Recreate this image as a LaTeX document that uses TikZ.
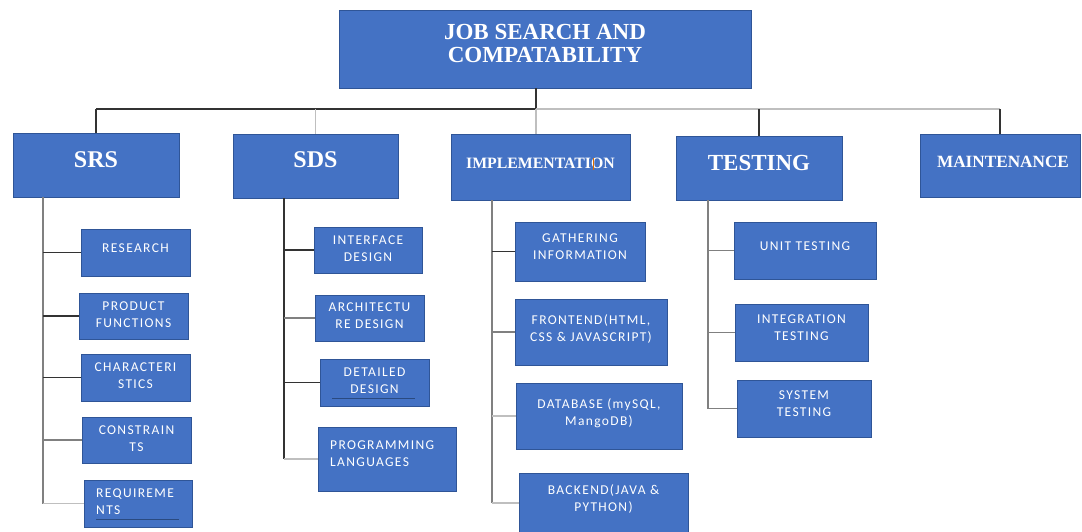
\documentclass[tikz,border=0pt]{standalone}
\usepackage{fontspec}
\setmainfont{Liberation Serif}
\newfontfamily\calfont[LetterSpace=10]{Carlito}
\usetikzlibrary{calc}
\definecolor{boxfill}{HTML}{4472C4}
\definecolor{boxline}{HTML}{2F5597}
\definecolor{ulcol}{HTML}{2A4A80}
\tikzset{
  box/.style={draw=boxline, fill=boxfill, line width=1pt, inner sep=0pt, outer sep=0pt, anchor=north west},
  toptext/.style={text=white, inner sep=0pt, align=center, font=\bfseries},
  subtext/.style={text=white, inner sep=0pt, align=center, anchor=north, font=\calfont\fontsize{13.5}{17}\selectfont},
  subleft/.style={subtext, align=left, anchor=north west},
  dk/.style={draw=black!80, line width=1.2pt},
  md/.style={draw=black!50, line width=1.2pt},
  lt/.style={draw=black!25, line width=1.2pt},
}
\begin{document}
\begin{tikzpicture}[x=1pt,y=-1pt]
\useasboundingbox (0,0) rectangle (1082,531);
% top level
\node[box, minimum width=412pt, minimum height=78pt] (root) at (339,10) {};
\node[box, minimum width=166pt, minimum height=64pt] (srs) at (13,133) {};
\node[box, minimum width=165pt, minimum height=64pt] (sds) at (233,134) {};
\node[box, minimum width=179pt, minimum height=66pt] (impl) at (451,134) {};
\node[box, minimum width=166pt, minimum height=64pt] (test) at (676,136) {};
\node[box, minimum width=160pt, minimum height=63pt] (maint) at (920,134) {};
\node[toptext, font=\bfseries\fontsize{23}{23.5}\selectfont] (rootT) at ($(root.north)+(0,33.4)$) {JOB SEARCH AND\\COMPATABILITY};
\node[toptext, font=\bfseries\fontsize{24}{26}\selectfont] (srsT) at ($(srs.north)+(0,27)$) {SRS};
\node[toptext, font=\bfseries\fontsize{24}{26}\selectfont] (sdsT) at ($(sds.north)+(0,26)$) {SDS};
\node[toptext, font=\bfseries\fontsize{15.8}{18}\selectfont] (implT) at ($(impl.north)+(0,29)$) {IMPLEMENTATION};
\node[toptext, font=\bfseries\fontsize{23}{26}\selectfont] (testT) at ($(test.north)+(0,26.7)$) {TESTING};
\node[toptext, font=\bfseries\fontsize{17.2}{20}\selectfont] (maintT) at ($(maint.north)+(3,28)$) {MAINTENANCE};
\draw[orange!85!black, line width=0.8pt] ($(impl.north west)+(142,24)$) -- ($(impl.north west)+(142,36)$);
% SRS children
\node[box, minimum width=109pt, minimum height=47pt] (research) at (81,229) {};
\node[box, minimum width=109pt, minimum height=46pt] (product) at (79,293) {};
\node[box, minimum width=109pt, minimum height=47pt] (charact) at (81,354) {};
\node[box, minimum width=109pt, minimum height=46pt] (constr) at (82,417) {};
\node[box, minimum width=108pt, minimum height=47pt] (req) at (84,480) {};
\node[subtext] (researchT) at ($(research.north)+(0,14.6)$) {RESEARCH};
\node[subtext] (productT) at ($(product.north)+(0,8.6)$) {PRODUCT\\FUNCTIONS};
\node[subtext] (charactT) at ($(charact.north)+(0,8.6)$) {CHARACTERI\\STICS};
\node[subtext] (constrT) at ($(constr.north)+(0,8.6)$) {CONSTRAIN\\TS};
\node[subleft] (reqT) at ($(req.north west)+(12,8.6)$) {REQUIREME\\NTS};
\draw[ulcol, line width=0.7pt] ($(req.north west)+(12,39)$) -- ($(req.north west)+(95,39)$);
% SDS children
\node[box, minimum width=108pt, minimum height=46pt] (interface) at (314,227) {};
\node[box, minimum width=109pt, minimum height=46pt] (arch) at (315,295) {};
\node[box, minimum width=109pt, minimum height=47pt] (detailed) at (320,359) {};
\node[box, minimum width=138pt, minimum height=64pt] (prog) at (318,427) {};
\node[subtext] (interfaceT) at ($(interface.north)+(0,8.6)$) {INTERFACE\\DESIGN};
\node[subtext] (archT) at ($(arch.north)+(0,7.6)$) {ARCHITECTU\\RE DESIGN};
\node[subtext] (detailedT) at ($(detailed.north)+(0,8.6)$) {DETAILED\\DESIGN};
\draw[ulcol, line width=0.7pt] ($(detailed.north west)+(12,39)$) -- ($(detailed.north west)+(95,39)$);
\node[subleft] (progT) at ($(prog.north west)+(12,13.6)$) {PROGRAMMING\\LANGUAGES};
% IMPLEMENTATION children
\node[box, minimum width=130pt, minimum height=59pt] (gather) at (515,222) {};
\node[box, minimum width=152pt, minimum height=66pt] (front) at (515,299) {};
\node[box, minimum width=166pt, minimum height=66pt] (db) at (516,383) {};
\node[box, minimum width=169pt, minimum height=60pt] (back) at (519,473) {};
\node[subtext] (gatherT) at ($(gather.north)+(0,11.6)$) {GATHERING\\INFORMATION};
\node[subtext] (frontT) at ($(front.north)+(0,15.6)$) {FRONTEND(HTML,\\CSS \& JAVASCRIPT)};
\node[subtext] (dbT) at ($(db.north)+(0,15.6)$) {DATABASE (mySQL,\\MangoDB)};
\node[subtext] (backT) at ($(back.north)+(0,11.6)$) {BACKEND(JAVA \&\\PYTHON)};
% TESTING children
\node[box, minimum width=142pt, minimum height=57pt] (unit) at (734,222) {};
\node[box, minimum width=133pt, minimum height=57pt] (integ) at (735,304) {};
\node[box, minimum width=134pt, minimum height=57pt] (system) at (737,380) {};
\node[subtext] (unitT) at ($(unit.north)+(0,19.6)$) {UNIT TESTING};
\node[subtext] (integT) at ($(integ.north)+(0,10.6)$) {INTEGRATION\\TESTING};
\node[subtext] (systemT) at ($(system.north)+(0,10.6)$) {SYSTEM\\TESTING};
% bus
\coordinate (bus) at ($(root.south)+(-9,21)$);
\draw[dk] (root.south -| bus) -- (bus);
\draw[dk] (bus -| srs.north) -- (bus);
\draw[lt] (bus) -- (bus -| maint.north);
\draw[dk] (bus -| srs.north) -- (srs.north);
\draw[lt] (bus -| sds.north) -- (sds.north);
\draw[lt] (bus) -- (bus |- impl.north);
\draw[dk] (bus -| test.north) -- (test.north);
\draw[dk] (bus -| maint.north) -- (maint.north);
% trunks
\coordinate (srsK) at ($(srs.south west)+(30,0)$);
\coordinate (sdsK) at ($(sds.south west)+(51,0)$);
\coordinate (implK) at ($(impl.south west)+(41,0)$);
\coordinate (testK) at ($(test.south west)+(32,0)$);
\draw[md] (srsK) -- (srsK |- req.west);
\draw[dk] (srsK |- research.west) -- (research.west);
\draw[dk] (srsK |- product.west) -- (product.west);
\draw[dk] (srsK |- charact.west) -- (charact.west);
\draw[md] (srsK |- constr.west) -- (constr.west);
\draw[lt] (srsK |- req.west) -- (req.west);
\draw[dk] (sdsK) -- (sdsK |- prog.west);
\draw[dk] (sdsK |- interface.west) -- (interface.west);
\draw[md] (sdsK |- arch.west) -- (arch.west);
\draw[dk] (sdsK |- detailed.west) -- (detailed.west);
\draw[lt] (sdsK |- prog.west) -- (prog.west);
\draw[md] (implK) -- (implK |- back.west);
\draw[dk] (implK |- gather.west) -- (gather.west);
\draw[md] (implK |- front.west) -- (front.west);
\draw[lt] (implK |- db.west) -- (db.west);
\draw[lt] (implK |- back.west) -- (back.west);
\draw[md] (testK) -- (testK |- system.west);
\draw[md] (testK |- unit.west) -- (unit.west);
\draw[md] (testK |- integ.west) -- (integ.west);
\draw[md] (testK |- system.west) -- (system.west);
\end{tikzpicture}
\end{document}
